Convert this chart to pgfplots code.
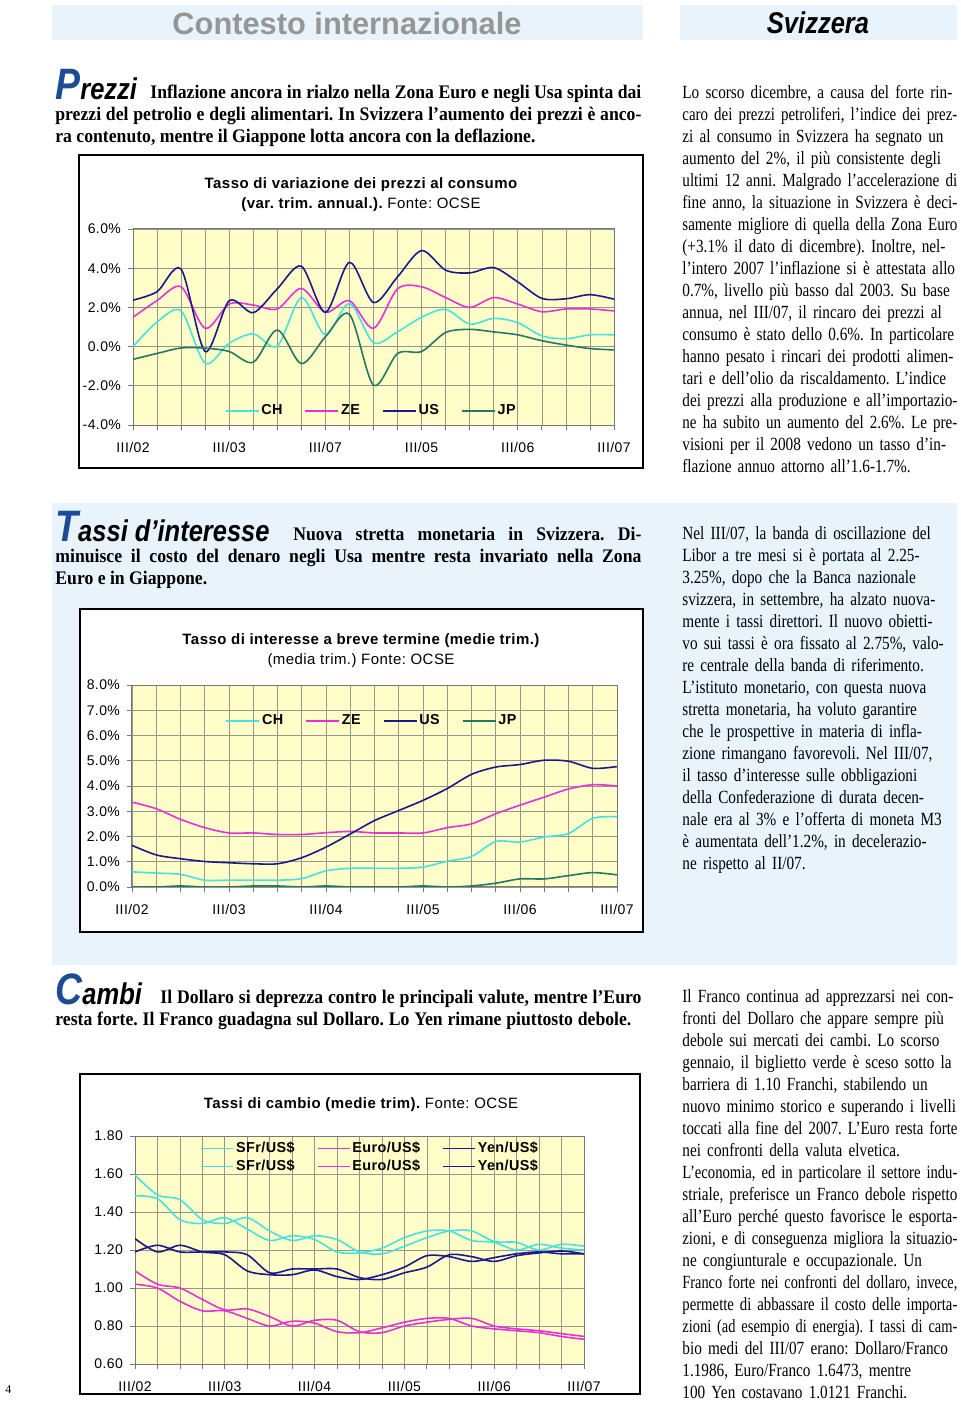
\documentclass[border=0pt]{standalone}
\usepackage{fontspec}
\usepackage{graphicx}
\usepackage{pgfplots}
\usepackage{pgfplotstable}
\pgfplotsset{compat=1.18}
\setmainfont{Liberation Serif}
\newfontfamily\bodyfont[FakeStretch=0.82]{Liberation Serif}
\newfontfamily\headfont[FakeStretch=0.92]{Liberation Serif}
\newfontfamily\hsans[FakeStretch=0.85]{Liberation Sans}
\newfontfamily\psans{Liberation Sans}
\newfontfamily\cf[LetterSpace=3]{Liberation Sans}

\definecolor{panel}{RGB}{233,243,251}
\definecolor{hblue}{RGB}{30,75,150}
\definecolor{hgray}{RGB}{150,150,150}
\definecolor{cyel}{RGB}{255,253,200}
\definecolor{gridg}{RGB}{150,150,140}
\definecolor{axg}{RGB}{120,120,120}
\definecolor{cCH}{RGB}{70,225,225}
\definecolor{cZE}{RGB}{228,50,215}
\definecolor{cUS}{RGB}{25,25,140}
\definecolor{cJP}{RGB}{35,120,100}

\newlength\colw \setlength\colw{137.5pt}
\newsavebox\Jbox
% riga giustificata: allarga gli spazi, o stringe la riga se e' troppo lunga
\newcommand\J[2][\colw]{%
  \sbox\Jbox{#2}%
  \ifdim\wd\Jbox>#1\relax
    \pgfmathsetmacro\Jratio{#1/\wd\Jbox}%
    \scalebox{\Jratio}[1]{\usebox\Jbox}%
  \else
    \makebox[#1][s]{#2}%
  \fi}

% inflazione, var. trim. annualizzata (%)
\pgfplotstableread{
q CH ZE US JP
0 0.00 1.50 2.37 -0.65
1 1.25 2.35 2.80 -0.35
2 1.82 3.05 3.95 -0.07
3 -0.85 0.93 -0.25 -0.08
4 0.17 2.17 2.34 -0.25
5 0.65 2.12 1.73 -0.80
6 0.03 1.92 2.95 0.85
7 2.50 2.97 4.10 -0.87
8 0.60 1.75 1.75 0.50
9 2.20 2.34 4.30 1.65
10 0.20 0.93 2.25 -1.97
11 0.76 2.95 3.56 -0.35
12 1.50 3.05 4.90 -0.25
13 1.90 2.50 3.90 0.72
14 1.15 2.00 3.76 0.88
15 1.44 2.50 4.03 0.75
16 1.22 2.17 3.30 0.60
17 0.55 1.78 2.46 0.30
18 0.40 1.92 2.44 0.08
19 0.60 1.92 2.65 -0.10
20 0.60 1.82 2.42 -0.17
}\prezzi

% tassi a breve (%)
\pgfplotstableread{
q CH ZE US JP
0 0.60 3.36 1.65 0.00
1 0.55 3.10 1.27 0.00
2 0.50 2.68 1.12 0.04
3 0.27 2.35 1.01 0.00
4 0.27 2.14 0.96 0.00
5 0.27 2.14 0.92 0.04
6 0.27 2.08 0.92 0.04
7 0.33 2.08 1.16 0.00
8 0.64 2.15 1.58 0.04
9 0.74 2.20 2.10 0.00
10 0.74 2.14 2.63 0.00
11 0.74 2.14 3.03 0.00
12 0.79 2.14 3.43 0.04
13 1.02 2.35 3.90 0.00
14 1.21 2.50 4.46 0.04
15 1.80 2.90 4.75 0.15
16 1.78 3.24 4.85 0.32
17 1.98 3.56 5.02 0.32
18 2.12 3.88 4.98 0.45
19 2.72 4.05 4.70 0.57
20 2.78 4.00 4.77 0.48
}\tassi

% cambi
\pgfplotstableread{
q SFrA SFrB EuroA EuroB YenA YenB
0 1.595 1.485 1.09 1.02 1.26 1.19
1 1.49 1.47 1.02 1.00 1.19 1.225
2 1.465 1.36 1.00 0.93 1.225 1.19
3 1.36 1.34 0.94 0.88 1.19 1.19
4 1.34 1.37 0.885 0.88 1.175 1.19
5 1.37 1.31 0.89 0.84 1.09 1.175
6 1.30 1.25 0.85 0.80 1.07 1.08
7 1.25 1.275 0.80 0.825 1.07 1.10
8 1.275 1.255 0.83 0.815 1.095 1.10
9 1.255 1.19 0.83 0.77 1.06 1.10
10 1.19 1.185 0.77 0.765 1.045 1.055
11 1.18 1.21 0.765 0.79 1.07 1.045
12 1.22 1.265 0.80 0.82 1.11 1.08
13 1.265 1.30 0.82 0.84 1.17 1.11
14 1.30 1.30 0.835 0.84 1.165 1.175
15 1.30 1.25 0.84 0.80 1.14 1.165
16 1.245 1.24 0.80 0.785 1.16 1.14
17 1.24 1.20 0.785 0.775 1.18 1.17
18 1.20 1.23 0.775 0.765 1.19 1.185
19 1.23 1.21 0.76 0.745 1.18 1.195
20 1.22 1.20 0.745 0.73 1.18 1.18
}\cambi

\pgfplotsset{
  trim/.style={
    scale only axis,
    axis background/.style={fill=cyel},
    xmin=0, xmax=20,
    xtick={0,4,...,20},
    minor xtick={1,...,19},
    grid=both,
    major grid style={draw=gridg, line width=0.35pt},
    minor grid style={draw=gridg, line width=0.35pt},
    axis line style={draw=axg, line width=0.5pt},
    tick style={draw=axg, line width=0.4pt},
    tick align=outside, tick pos=left,
    major tick length=2.5pt, minor tick length=2.5pt,
    tick label style={font=\cf\fontsize{7}{8}\selectfont},
    xticklabel style={yshift=-2.5pt},
    /pgf/number format/assume math mode=true,
    legend style={draw=none, fill=none, inner sep=0pt,
      nodes={inner sep=1pt},
      font=\cf\bfseries\fontsize{7.2}{8}\selectfont},
    legend image code/.code={\draw[##1] (0pt,0pt) -- (16.5pt,0pt);},
    every axis plot/.append style={line width=0.8pt, smooth, mark=none},
  },
}

\begin{document}
\frenchspacing
\begin{tikzpicture}
\useasboundingbox (0,0) rectangle (480pt,-700.5pt);
\begin{scope}[x=0.5pt,y=-0.5pt]
  % testate
  \fill[panel] (52,5) rectangle (643,40);
  \fill[panel] (680,5) rectangle (957,40);
  \node[font=\psans\bfseries\fontsize{15.4}{15}\selectfont, text=hgray] at (347,23) {Contesto internazionale};
  \node[font=\hsans\bfseries\itshape\fontsize{15}{15}\selectfont] at (818,23) {Svizzera};
  \fill[panel] (52,503) rectangle (957,965);

  % cornici dei grafici
  \draw[line width=0.6pt, fill=white] (79,155) rectangle (643,468);
  \draw[line width=0.6pt, fill=white] (80,609) rectangle (643,932);
  \draw[line width=0.6pt, fill=white] (80,1074) rectangle (640,1394);

  % titoli dei grafici
  \node[font=\cf\fontsize{7.5}{10}\selectfont, align=center] at (361,195)
    {\bfseries Tasso di variazione dei prezzi al consumo\\
     {\bfseries (var. trim. annual.).} Fonte: OCSE};
  \node[font=\cf\fontsize{7.5}{10}\selectfont, align=center] at (361,651)
    {\bfseries Tasso di interesse a breve termine (medie trim.)\\
     (media trim.) Fonte: OCSE};
  \node[font=\cf\fontsize{7.5}{10}\selectfont] at (361,1105)
    {\bfseries Tassi di cambio (medie trim). \mdseries Fonte: OCSE};

  % sommari
  \begin{scope}[every node/.style={anchor=base west, inner sep=0pt}]
    \node[font=\hsans\bfseries\itshape\fontsize{15}{15}\selectfont] at (55,100)
      {{\color{hblue}\fontsize{22}{22}\selectfont P}rezzi};
    \node[font=\headfont\bfseries\fontsize{9.6}{11}\selectfont] at (150,99)
      {\J[245.5pt]{Inflazione ancora in rialzo nella Zona Euro e negli Usa spinta dai}};
    \node[font=\headfont\bfseries\fontsize{9.6}{11}\selectfont] at (55,121)
      {\J[293pt]{prezzi del petrolio e degli alimentari. In Svizzera l’aumento dei prezzi è anco-}};
    \node[font=\headfont\bfseries\fontsize{9.6}{11}\selectfont] at (55,143)
      {ra contenuto, mentre il Giappone lotta ancora con la deflazione.};

    \node[font=\hsans\bfseries\itshape\fontsize{15}{15}\selectfont] at (55,541)
      {{\color{hblue}\fontsize{22}{22}\selectfont T}assi d’interesse};
    \node[font=\headfont\bfseries\fontsize{9.6}{11}\selectfont] at (293,540)
      {\J[174pt]{Nuova stretta monetaria in Svizzera. Di-}};
    \node[font=\headfont\bfseries\fontsize{9.6}{11}\selectfont] at (55,562)
      {\J[293pt]{minuisce il costo del denaro negli Usa mentre resta invariato nella Zona}};
    \node[font=\headfont\bfseries\fontsize{9.6}{11}\selectfont] at (55,584)
      {Euro e in Giappone.};

    \node[font=\hsans\bfseries\itshape\fontsize{15}{15}\selectfont] at (55,1004)
      {{\color{hblue}\fontsize{22}{22}\selectfont C}ambi};
    \node[font=\headfont\bfseries\fontsize{9.6}{11}\selectfont] at (160,1003)
      {\J[240.5pt]{Il Dollaro si deprezza contro le principali valute, mentre l’Euro}};
    \node[font=\headfont\bfseries\fontsize{9.6}{11}\selectfont] at (55,1025)
      {\J[288pt]{resta forte. Il Franco guadagna sul Dollaro. Lo Yen rimane piuttosto debole.}};

    \node[font=\fontsize{6}{7}\selectfont] at (5,1393) {4};
  \end{scope}

  % colonne di destra
  \begin{scope}[every node/.style={anchor=north west, inner sep=0pt, text width=140pt,
      align=left, font=\bodyfont\fontsize{9.3}{11}\selectfont}]
  \node at (682,82.6) {\strut\J{Lo scorso dicembre, a causa del forte rin-}\\
\J{caro dei prezzi petroliferi, l’indice dei prez-}\\
\J{zi al consumo in Svizzera ha segnato un}\\
\J{aumento del 2\%, il più consistente degli}\\
\J{ultimi 12 anni. Malgrado l’accelerazione di}\\
\J{fine anno, la situazione in Svizzera è deci-}\\
\J{samente migliore di quella della Zona Euro}\\
\J{(+3.1\% il dato di dicembre). Inoltre, nel-}\\
\J{l’intero 2007 l’inflazione si è attestata allo}\\
\J{0.7\%, livello più basso dal 2003. Su base}\\
\J{annua, nel III/07, il rincaro dei prezzi al}\\
\J{consumo è stato dello 0.6\%. In particolare}\\
\J{hanno pesato i rincari dei prodotti alimen-}\\
\J{tari e dell’olio da riscaldamento. L’indice}\\
\J{dei prezzi alla produzione e all’importazio-}\\
\J{ne ha subito un aumento del 2.6\%. Le pre-}\\
\J{visioni per il 2008 vedono un tasso d’in-}\\
flazione annuo attorno all’1.6-1.7\%.};

  \node at (682,523.6) {\strut\J{Nel III/07, la banda di oscillazione del}\\
\J{Libor a tre mesi si è portata al 2.25-}\\
\J{3.25\%, dopo che la Banca nazionale}\\
\J{svizzera, in settembre, ha alzato nuova-}\\
\J{mente i tassi direttori. Il nuovo obietti-}\\
\J{vo sui tassi è ora fissato al 2.75\%, valo-}\\
\J{re centrale della banda di riferimento.}\\
\J{L’istituto monetario, con questa nuova}\\
\J{stretta monetaria, ha voluto garantire}\\
\J{che le prospettive in materia di infla-}\\
\J{zione rimangano favorevoli. Nel III/07,}\\
\J{il tasso d’interesse sulle obbligazioni}\\
\J{della Confederazione di durata decen-}\\
\J{nale era al 3\% e l’offerta di moneta M3}\\
\J{è aumentata dell’1.2\%, in decelerazio-}\\
ne rispetto al II/07.};

  \node at (682,986.6) {\strut\J{Il Franco continua ad apprezzarsi nei con-}\\
\J{fronti del Dollaro che appare sempre più}\\
\J{debole sui mercati dei cambi. Lo scorso}\\
\J{gennaio, il biglietto verde è sceso sotto la}\\
\J{barriera di 1.10 Franchi, stabilendo un}\\
\J{nuovo minimo storico e superando i livelli}\\
\J{toccati alla fine del 2007. L’Euro resta forte}\\
\J{nei confronti della valuta elvetica.}\\
\J{L’economia, ed in particolare il settore indu-}\\
\J{striale, preferisce un Franco debole rispetto}\\
\J{all’Euro perché questo favorisce le esporta-}\\
\J{zioni, e di conseguenza migliora la situazio-}\\
\J{ne congiunturale e occupazionale. Un}\\
\J{Franco forte nei confronti del dollaro, invece,}\\
\J{permette di abbassare il costo delle importa-}\\
\J{zioni (ad esempio di energia). I tassi di cam-}\\
\J{bio medi del III/07 erano: Dollaro/Franco}\\
\J{1.1986, Euro/Franco 1.6473, mentre}\\
100 Yen costavano 1.0121 Franchi.};
  \end{scope}
\end{scope}

% Grafico 1: prezzi
\begin{axis}[trim, at={(66.5pt,-114.5pt)}, anchor=north west,
  width=240.5pt, height=98pt,
  ymin=-4, ymax=6, ytick={-4,-2,...,6},
  yticklabel={\pgfmathprintnumber[fixed,fixed zerofill,precision=1]{\tick}\%},
  xticklabels={III/02,III/03,III/07,III/05,III/06,III/07},
  legend columns=4,
  legend style={at={(0.19,0.07)}, anchor=west,
    /tikz/every even column/.append style={column sep=10pt}},
]
\addplot[cCH] table[x=q,y=CH] {\prezzi};
\addplot[cZE] table[x=q,y=ZE] {\prezzi};
\addplot[cUS] table[x=q,y=US] {\prezzi};
\addplot[cJP] table[x=q,y=JP] {\prezzi};
\legend{CH,ZE,US,JP}
\end{axis}

% Grafico 2: tassi d'interesse
\begin{axis}[trim, at={(66pt,-342.5pt)}, anchor=north west,
  width=242.5pt, height=101pt,
  ymin=0, ymax=8, ytick={0,1,...,8},
  yticklabel={\pgfmathprintnumber[fixed,fixed zerofill,precision=1]{\tick}\%},
  xticklabels={III/02,III/03,III/04,III/05,III/06,III/07},
  legend columns=4,
  legend style={at={(0.192,0.822)}, anchor=west,
    /tikz/every even column/.append style={column sep=10pt}},
]
\addplot[cCH] table[x=q,y=CH] {\tassi};
\addplot[cZE] table[x=q,y=ZE] {\tassi};
\addplot[cUS] table[x=q,y=US] {\tassi};
\addplot[cJP] table[x=q,y=JP] {\tassi};
\legend{CH,ZE,US,JP}
\end{axis}

% Grafico 3: cambi
\begin{axis}[trim, at={(67.5pt,-568pt)}, anchor=north west,
  width=224.5pt, height=114pt,
  ymin=0.6, ymax=1.8, ytick={0.6,0.8,1.0,1.2,1.4,1.6,1.8},
  yticklabel={\pgfmathprintnumber[fixed,fixed zerofill,precision=2]{\tick}},
  xticklabels={III/02,III/03,III/04,III/05,III/06,III/07},
  legend columns=3,
  legend image code/.code={\draw[#1] (0pt,0pt) -- (16pt,0pt);},
  legend style={at={(0.145,0.985)}, anchor=north west,
    /tikz/every even column/.append style={column sep=10pt},
    /tikz/every row/.append style={row sep=-1pt}},
]
\addplot[cCH] table[x=q,y=SFrA] {\cambi};
\addplot[cZE] table[x=q,y=EuroA] {\cambi};
\addplot[cUS] table[x=q,y=YenA] {\cambi};
\addplot[cCH] table[x=q,y=SFrB] {\cambi};
\addplot[cZE] table[x=q,y=EuroB] {\cambi};
\addplot[cUS] table[x=q,y=YenB] {\cambi};
\legend{SFr/US\$,Euro/US\$,Yen/US\$,SFr/US\$,Euro/US\$,Yen/US\$}
\end{axis}
\end{tikzpicture}
\end{document}
